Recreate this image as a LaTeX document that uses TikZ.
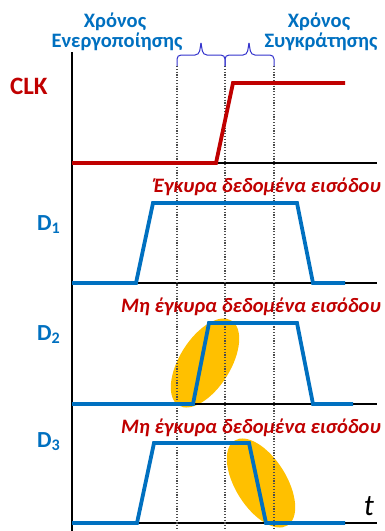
\documentclass[tikz,border=0pt]{standalone}
\usepackage{fontspec}
\setmainfont{Carlito}
\definecolor{clkred}{HTML}{C00000}
\definecolor{dblue}{HTML}{0070C0}
\definecolor{gold}{HTML}{FFC000}
\definecolor{braceblue}{RGB}{51,51,204}
\begin{document}
\begin{tikzpicture}[x=1pt,y=-1pt,
  axis/.style={line width=2pt,black},
  guide/.style={gray!60!black,line width=1.3pt,dash pattern=on 1.2pt off 1.6pt},
  clkwave/.style={clkred,line width=3.8pt,line join=miter},
  dwave/.style={dblue,line width=3.8pt,line join=miter},
  blob/.style={fill=gold,draw=none},
  bracestyle/.style={braceblue,line width=1pt,rounded corners=4pt},
  title/.style={dblue,font=\bfseries\fontsize{20.5}{20.5}\selectfont,anchor=base,inner sep=0pt},
  siglabel/.style={font=\bfseries\fontsize{23}{23}\selectfont,anchor=base west,inner sep=0pt},
  redlabel/.style={clkred,font=\bfseries\itshape\fontsize{20.5}{20.5}\selectfont,anchor=base east,inner sep=0pt}]
\useasboundingbox (0,0) rectangle (385,531);
% ellipses
\fill[blob,rotate around={58:(205,363)}] (205,363) ellipse [x radius=50, y radius=25.5];
\fill[blob,rotate around={-58:(261,483)}] (261,483) ellipse [x radius=50, y radius=25.5];
% axes
\draw[axis] (72,52) -- (72,531);
\draw[axis] (72,163) -- (377,163);
\draw[axis] (72,283) -- (377,283);
\draw[axis] (72,404) -- (377,404);
\draw[axis] (72,523) -- (377,523);
% guides
\draw[guide] (177,66) -- (177,531);
\draw[guide] (225,66) -- (225,531);
\draw[guide] (274,66) -- (274,531);
% braces
\draw[bracestyle] (177,66) -- (177,55) -- (199,55) -- (201,43);
\draw[bracestyle] (201,43) -- (203,55) -- (225,55) -- (225,66);
\draw[bracestyle] (225,66) -- (225,55) -- (247,55) -- (249,43);
\draw[bracestyle] (249,43) -- (251,55) -- (274,55) -- (274,66);
% waveforms
\draw[clkwave] (72,163) -- (216,163) -- (233,83) -- (345,83);
\draw[dwave] (72,283) -- (136,283) -- (153,203) -- (297,203) -- (313,283) -- (345,283);
\draw[dwave] (72,404) -- (193,404) -- (209,323) -- (297,323) -- (313,404) -- (353,404);
\draw[dwave] (72,523) -- (137,523) -- (154,443) -- (249,443) -- (266,523) -- (345,523);
% texts
\node[title] (t1a) at (115,27) {Χρόνος};
\node[title] (t1b) at (117,47) {Ενεργοποίησης};
\node[title] (t2a) at (319,27) {Χρόνος};
\node[title] (t2b) at (321,47) {Συγκράτησης};
\node[siglabel,clkred,font=\bfseries\fontsize{25}{25}\selectfont] (clk) at (10,94) {CLK};
\node[siglabel,dblue] (d1) at (37,230) {D\textsubscript{1}};
\node[siglabel,dblue] (d2) at (37,340) {D\textsubscript{2}};
\node[siglabel,dblue] (d3) at (37,447) {D\textsubscript{3}};
\node[redlabel] (l1) at (381,192) {Έγκυρα δεδομένα εισόδου};
\node[redlabel] (l2) at (381,312) {Μη έγκυρα δεδομένα εισόδου};
\node[redlabel] (l3) at (381,433) {Μη έγκυρα δεδομένα εισόδου};
\node[font=\itshape\fontsize{30}{30}\selectfont,anchor=base,inner sep=0pt] (t) at (369,515) {t};
\end{tikzpicture}
\end{document}
